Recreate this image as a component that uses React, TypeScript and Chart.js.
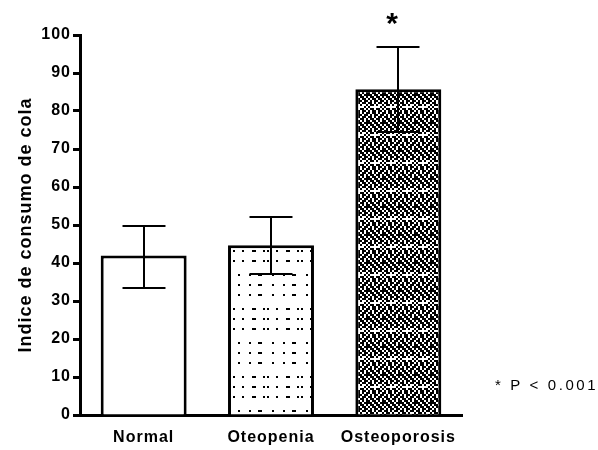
import React, { useEffect, useRef } from "react";
import { Chart, registerables } from "chart.js";

Chart.register(...registerables);

const categories = ["Normal", "Oteopenia", "Osteoporosis"];
const means = [42, 44.7, 85.7];
const errLow = [33.3, 37.2, 74.5];
const errHigh = [49.8, 52, 96.8];
const significance = ["", "", "*"];
const footnote = "* P < 0.001";
const yAxisTitle = "Indice de consumo de cola";
const yMin = 0;
const yMax = 100;
const yStep = 10;

const FONT = "'Liberation Sans', Arial, Helvetica, sans-serif";

function makeDotPattern(ctx: CanvasRenderingContext2D): CanvasPattern | string {
  const c = document.createElement("canvas");
  c.width = 34;
  c.height = 68;
  const g = c.getContext("2d");
  if (!g) return "#fff";
  g.fillStyle = "#fff";
  g.fillRect(0, 0, 34, 68);
  g.fillStyle = "#000";
  const rowA = [0, 11, 20, 22];
  const rowB = [4, 14, 16, 25, 29];
  [2, 12, 22].forEach((yy) => rowA.forEach((xx) => g.fillRect(xx, yy, 2, 2)));
  [36, 46, 56].forEach((yy) => rowB.forEach((xx) => g.fillRect(xx, yy, 2, 2)));
  return ctx.createPattern(c, "repeat") || "#fff";
}

function makeCheckPattern(ctx: CanvasRenderingContext2D): CanvasPattern | string {
  const c = document.createElement("canvas");
  c.width = 16;
  c.height = 28;
  const g = c.getContext("2d");
  if (!g) return "#333";
  g.fillStyle = "#fff";
  g.fillRect(0, 0, 16, 28);
  g.fillStyle = "#000";
  const cells = [
    [1, 0, 1, 1, 0, 1, 0, 1],
    [0, 1, 0, 1, 1, 0, 1, 1],
    [1, 1, 0, 1, 0, 1, 1, 0],
    [0, 1, 1, 0, 1, 1, 0, 1],
    [1, 0, 1, 1, 0, 1, 0, 1],
    [1, 1, 0, 1, 1, 0, 1, 1],
    [0, 1, 1, 0, 1, 1, 0, 1],
    [1, 0, 1, 1, 0, 1, 1, 0],
    [0, 1, 0, 1, 1, 0, 1, 1],
    [1, 1, 0, 1, 0, 1, 1, 0],
    [0, 1, 1, 0, 1, 0, 0, 1],
    [1, 0, 0, 0, 0, 0, 1, 0],
    [0, 1, 1, 0, 1, 1, 0, 1],
    [1, 0, 1, 1, 0, 1, 1, 0],
  ];
  cells.forEach((row, r) =>
    row.forEach((v, col) => {
      if (v) g.fillRect(col * 2, r * 2, 2, 2);
    })
  );
  return ctx.createPattern(c, "repeat") || "#333";
}

const decorPlugin = {
  id: "decor",
  beforeUpdate(chart: any) {
    chart.ctx.letterSpacing = "1px";
  },
  beforeDraw(chart: any) {
    chart.ctx.letterSpacing = "1px";
  },
  afterDatasetsDraw(chart: any) {
    const ctx: CanvasRenderingContext2D = chart.ctx;
    const meta = chart.getDatasetMeta(0);
    const y = chart.scales.y;
    ctx.save();
    ctx.strokeStyle = "#000";
    ctx.lineWidth = 2;
    meta.data.forEach((bar: any, i: number) => {
      const x = Math.round(bar.x);
      const half = bar.width * 0.25;
      const top = Math.round(y.getPixelForValue(errHigh[i]));
      const bot = Math.round(y.getPixelForValue(errLow[i]));
      ctx.beginPath();
      ctx.moveTo(x, top);
      ctx.lineTo(x, bot);
      ctx.moveTo(x - half, top);
      ctx.lineTo(x + half, top);
      ctx.moveTo(x - half, bot);
      ctx.lineTo(x + half, bot);
      ctx.stroke();
      if (significance[i]) {
        ctx.fillStyle = "#000";
        (ctx as any).letterSpacing = "0px";
        ctx.font = `bold 30px ${FONT}`;
        ctx.textAlign = "center";
        ctx.textBaseline = "alphabetic";
        ctx.fillText(significance[i], x - 6, top - 14);
      }
    });
    (ctx as any).letterSpacing = "2.6px";
    ctx.font = `15px ${FONT}`;
    ctx.fillStyle = "#000";
    ctx.textAlign = "left";
    ctx.textBaseline = "alphabetic";
    ctx.fillText(footnote, chart.chartArea.right + 33, chart.chartArea.bottom - 25);
    ctx.restore();
    (ctx as any).letterSpacing = "1px";
  },
};

export default function App() {
  const ref = useRef<HTMLCanvasElement | null>(null);

  useEffect(() => {
    const canvas = ref.current;
    if (!canvas) return;
    const ctx = canvas.getContext("2d");
    if (!ctx) return;
    const fills = ["#ffffff", makeDotPattern(ctx), makeCheckPattern(ctx)];

    const chart = new Chart(canvas, {
      type: "bar",
      data: {
        labels: categories,
        datasets: [
          {
            data: means,
            backgroundColor: fills as any,
            borderColor: "#000",
            borderWidth: 3,
            borderSkipped: "start",
            barPercentage: 0.675,
            categoryPercentage: 1,
          },
        ],
      },
      options: {
        animation: false,
        responsive: false,
        layout: { padding: { top: 35, right: 136, bottom: 0, left: 10 } },
        plugins: {
          legend: { display: false },
          tooltip: { enabled: false },
        },
        scales: {
          x: {
            type: "category",
            offset: true,
            grid: { display: false, drawTicks: false },
            border: { display: true, width: 3, color: "#000" },
            ticks: {
              color: "#000",
              font: { family: FONT, size: 16, weight: "bold" },
              padding: 13,
              maxRotation: 0,
            },
            afterFit(scale: any) {
              scale.height = 35;
            },
          },
          y: {
            min: yMin,
            max: yMax,
            grid: {
              display: true,
              drawOnChartArea: false,
              drawTicks: true,
              tickLength: 7,
              tickWidth: 3,
              tickColor: "#000",
            },
            border: { display: true, width: 3, color: "#000" },
            ticks: {
              stepSize: yStep,
              color: "#000",
              font: { family: FONT, size: 16, weight: "bold" },
              padding: 2,
            },
            title: {
              display: true,
              text: yAxisTitle,
              color: "#000",
              font: { family: FONT, size: 18, weight: "bold" },
              padding: { top: 5, bottom: 0 },
            },
            afterFit(scale: any) {
              scale.width = 70;
            },
          },
        },
      },
      plugins: [decorPlugin],
    });

    return () => chart.destroy();
  }, []);

  return (
    <div style={{ position: "absolute", left: 0, top: 0, width: 598, height: 450, background: "#fff" }}>
      <canvas ref={ref} width={598} height={450} />
    </div>
  );
}
